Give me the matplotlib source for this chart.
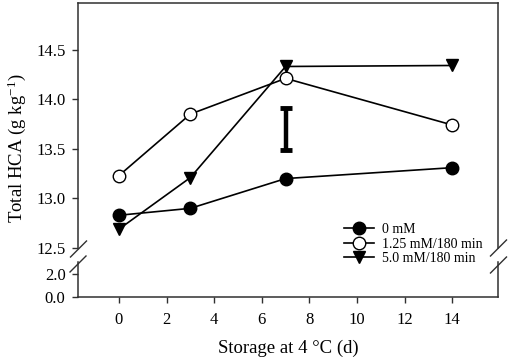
import matplotlib
matplotlib.use("Agg")
import matplotlib.pyplot as plt
from matplotlib.lines import Line2D

plt.rcParams['font.family'] = ['Liberation Serif', 'DejaVu Serif']
plt.rcParams['mathtext.fontset'] = 'custom'
plt.rcParams['mathtext.rm'] = 'Liberation Serif'
plt.rcParams['mathtext.it'] = 'Liberation Serif:italic'

days = [0, 3, 7, 14]
s0 = [12.83, 12.90, 13.20, 13.31]
s125 = [13.23, 13.85, 14.21, 13.74]
s50 = [12.69, 13.21, 14.33, 14.34]
labels = ['0 mM', '1.25 mM/180 min', '5.0 mM/180 min']
err_x = 7
err_y = 13.70
err_h = 0.21
xticks = [0, 2, 4, 6, 8, 10, 12, 14]
yticks_top = [12.5, 13.0, 13.5, 14.0, 14.5]
yticks_bot = [0.0, 2.0]

W, H = 510, 360
fig = plt.figure(figsize=(W/100, H/100), dpi=100)

def fx(px):
    return px / W
def fy(py):
    return 1 - py / H

L, R = 78, 498
ax_top = fig.add_axes([fx(L), fy(248), fx(R - L), (248 - 3) / H])
ax_bot = fig.add_axes([fx(L), fy(297), fx(R - L), (297 - 262) / H])

spc = '#303030'
for ax in (ax_top, ax_bot):
    ax.set_xlim(-1.72, 15.92)
    for s in ax.spines.values():
        s.set_color(spc)
        s.set_linewidth(1.1)
    ax.tick_params(axis='both', direction='out', length=4, width=1.0, color=spc,
                   labelsize=12, pad=5)

ax_top.set_ylim(12.5, 14.97)
ax_bot.set_ylim(0, 3.0)
ax_top.spines['bottom'].set_visible(False)
ax_bot.spines['top'].set_visible(False)
ax_top.tick_params(axis='x', bottom=False, labelbottom=False)
ax_top.set_yticks(yticks_top)
ax_top.set_yticklabels([f'{v:.1f}' for v in yticks_top])
ax_bot.set_yticks(yticks_bot)
ax_bot.set_yticklabels([f'{v:.1f}' for v in yticks_bot])
ax_bot.set_xticks(xticks)
ax_bot.tick_params(axis='x', pad=7)

lw = 1.2
h0, = ax_top.plot(days, s0, color='black', lw=lw, marker='o', ms=9,
                  mfc='black', mec='black', clip_on=False, zorder=3)
h1, = ax_top.plot(days, s125, color='black', lw=lw, marker='o', ms=9,
                  mfc='white', mec='black', mew=1.0, clip_on=False, zorder=3)
h2, = ax_top.plot(days, s50, color='black', lw=lw, marker='v', ms=9,
                  mfc='black', mec='black', clip_on=False, zorder=3)
ax_top.errorbar([err_x], [err_y], yerr=[err_h], fmt='none', ecolor='black',
                elinewidth=3.2, capsize=4, capthick=3.5, zorder=3)

fig.legend([h0, h1, h2], labels, loc='center left',
           bbox_to_anchor=(fx(344), fy(244)), bbox_transform=fig.transFigure,
           frameon=False, fontsize=10, handlelength=2.15, handletextpad=0.6,
           labelspacing=0.1, borderpad=0, borderaxespad=0)

ax_bot.set_xlabel('Storage at 4 °C (d)', fontsize=13.5, labelpad=8)
fig.text(fx(17), fy(148), 'Total HCA (g kg$^{-1}$)', rotation=90,
         ha='center', va='center', fontsize=13.5)

# break marks
def brk(cx, cy):
    fig.add_artist(Line2D([fx(cx - 8), fx(cx + 8)], [fy(cy + 8), fy(cy - 8)],
                          transform=fig.transFigure, color=spc, lw=1.0))
brk(78.5, 249)
brk(78, 264)
brk(498.5, 248)
brk(498.5, 265)

fig.savefig('out.png', dpi=100)
